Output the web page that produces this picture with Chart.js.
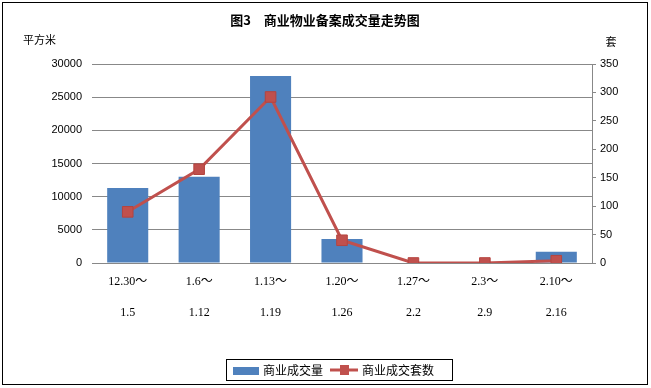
<!DOCTYPE html>
<html>
<head>
<meta charset="utf-8">
<script src="https://cdn.jsdelivr.net/npm/chart.js@4"></script>
<style>
  html, body { margin: 0; padding: 0; background: #fff; }
  #wrap { width: 651px; height: 388px; position: relative; }
</style>
</head>
<body>
<div id="wrap"><canvas id="chart"></canvas></div>
<script>
// 周期起止
const startDates = ['12.30～', '1.6～', '1.13～', '1.20～', '1.27～', '2.3～', '2.10～'];
const endDates = ['1.5', '1.12', '1.19', '1.26', '2.2', '2.9', '2.16'];

// 商业成交量（平方米）、商业成交套数（套）
const areaValues = [11300, 13000, 28200, 3600, 0, 0, 1700];
const unitValues = [90, 165, 292, 40, 0, 0, 4];

const barColor = '#4F81BD';
const lineColor = '#C0504D';
const gridColor = '#888888';

const labels = startDates.map((s, i) => [s, endDates[i]]);

// 标题、单位、外框和图例
const decorPlugin = {
    id: 'decor',
    afterDraw(chart) {
        const ctx = chart.ctx;
        ctx.save();
        ctx.strokeStyle = '#000';
        ctx.lineWidth = 1;
        ctx.strokeRect(2.5, 2.5, 645, 382);

        ctx.fillStyle = '#000';
        ctx.textBaseline = 'middle';
        ctx.textAlign = 'center';
        ctx.font = 'bold 13px "Noto Sans CJK SC"';
        ctx.fillText('图3　商业物业备案成交量走势图', 325, 20);

        ctx.font = '11px "Noto Sans CJK SC"';
        ctx.textAlign = 'left';
        ctx.fillText('平方米', 23, 40);
        ctx.textAlign = 'center';
        ctx.fillText('套', 611, 42);

        // 图例
        ctx.strokeRect(226.5, 359.5, 226, 21);
        ctx.fillStyle = barColor;
        ctx.fillRect(233, 367, 26, 8);
        ctx.fillStyle = '#000';
        ctx.textAlign = 'left';
        ctx.font = '12px "Noto Sans CJK SC"';
        ctx.fillText('商业成交量', 263, 370);

        ctx.strokeStyle = lineColor;
        ctx.lineWidth = 3;
        ctx.beginPath();
        ctx.moveTo(330, 370);
        ctx.lineTo(358, 370);
        ctx.stroke();
        ctx.fillStyle = lineColor;
        ctx.fillRect(340, 365, 9, 10);
        ctx.fillStyle = '#000';
        ctx.fillText('商业成交套数', 362, 370);
        ctx.restore();
    }
};

new Chart(document.getElementById('chart'), {
    data: {
        labels: labels,
        datasets: [
            {
                type: 'line',
                label: '商业成交套数',
                data: unitValues,
                yAxisID: 'y1',
                borderColor: lineColor,
                backgroundColor: lineColor,
                borderWidth: 3,
                pointStyle: 'rect',
                pointRadius: 7.5,
                pointBorderWidth: 1,
                pointBorderColor: '#B5443F',
                tension: 0,
                order: 0
            },
            {
                type: 'bar',
                label: '商业成交量',
                data: areaValues,
                yAxisID: 'y',
                backgroundColor: barColor,
                categoryPercentage: 1,
                barPercentage: 0.575,
                order: 1
            }
        ]
    },
    options: {
        responsive: true,
        maintainAspectRatio: false,
        animation: false,
        layout: { padding: { top: 64, left: 10, right: 10, bottom: 55 } },
        plugins: {
            legend: { display: false },
            title: { display: false },
            tooltip: { enabled: false }
        },
        scales: {
            x: {
                grid: { display: false, drawTicks: false },
                border: { display: true, color: gridColor },
                ticks: {
                    color: '#000',
                    padding: 3,
                    maxRotation: 0,
                    autoSkip: false,
                    font: { family: '"Liberation Serif", "Noto Sans CJK SC"', size: 12, lineHeight: 2.6 }
                },
                afterFit(scale) { scale.height = 70; }
            },
            y: {
                position: 'left',
                min: 0,
                max: 30000,
                grid: { color: gridColor, drawTicks: false },
                border: { display: false },
                ticks: {
                    stepSize: 5000,
                    color: '#000',
                    padding: 10,
                    font: { family: '"Liberation Sans"', size: 11 },
                    callback: v => String(v)
                },
                afterFit(scale) { scale.width = 82; }
            },
            y1: {
                position: 'right',
                min: 0,
                max: 350,
                grid: { drawOnChartArea: false, color: gridColor, tickLength: 4 },
                border: { display: true, color: gridColor },
                ticks: {
                    stepSize: 50,
                    color: '#000',
                    padding: 4,
                    font: { family: '"Liberation Sans"', size: 11 },
                    callback: v => String(v)
                },
                afterFit(scale) { scale.width = 49; }
            }
        }
    },
    plugins: [decorPlugin]
});
</script>
</body>
</html>
